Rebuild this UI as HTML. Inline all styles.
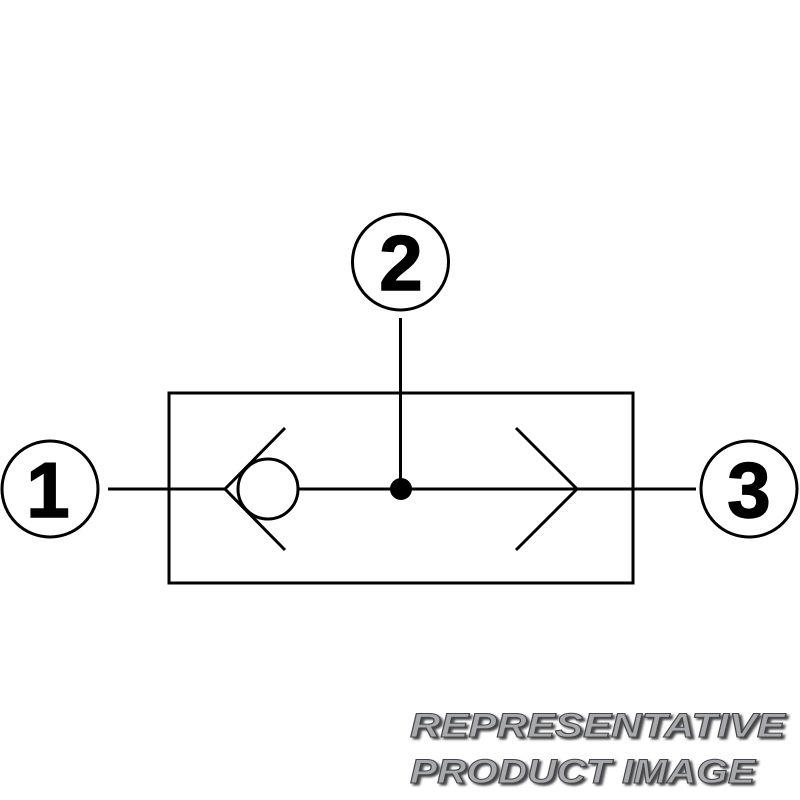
<!DOCTYPE html>
<html><head><style>body{margin:0;background:#fff}svg{display:block}</style></head>
<body>
<svg width="800" height="800" viewBox="0 0 800 800" xmlns="http://www.w3.org/2000/svg">
<defs><filter id="sh" x="-5%" y="-20%" width="110%" height="140%"><feDropShadow dx="2" dy="2" stdDeviation="1" flood-color="#333" flood-opacity="0.9"/></filter></defs>
<g fill="none" stroke="#000" stroke-width="3">
<circle cx="50" cy="489" r="48"/>
<circle cx="400.5" cy="262" r="48"/>
<circle cx="749" cy="489" r="48"/>
<rect x="169" y="393" width="464" height="190"/>
<line x1="108" y1="489" x2="225" y2="489"/>
<line x1="298" y1="489" x2="696" y2="489"/>
<line x1="400.5" y1="318" x2="400.5" y2="489"/>
<polyline points="285,428 225,489 285,550"/>
<circle cx="268" cy="489" r="30"/>
<polyline points="516,428 577,489 516,550"/>
</g>
<circle cx="401" cy="489" r="11" fill="#000"/>
<g font-family="Liberation Sans, sans-serif" font-weight="bold" font-size="78" text-anchor="middle" fill="#000" stroke="#000" stroke-width="1.5">
<text x="48" y="517">1</text>
<text x="401" y="290">2</text>
<text x="749" y="517">3</text>
</g>
<g font-family="Liberation Sans, sans-serif" font-weight="bold" font-style="italic" font-size="34" fill="#a8a9ad" stroke="#444" stroke-width="1" filter="url(#sh)" transform="scale(1.25,1)">
<text x="328" y="737" textLength="300" lengthAdjust="spacingAndGlyphs">REPRESENTATIVE</text>
<text x="328" y="783" textLength="276" lengthAdjust="spacingAndGlyphs">PRODUCT  IMAGE</text>
</g>
</svg>
</body></html>
